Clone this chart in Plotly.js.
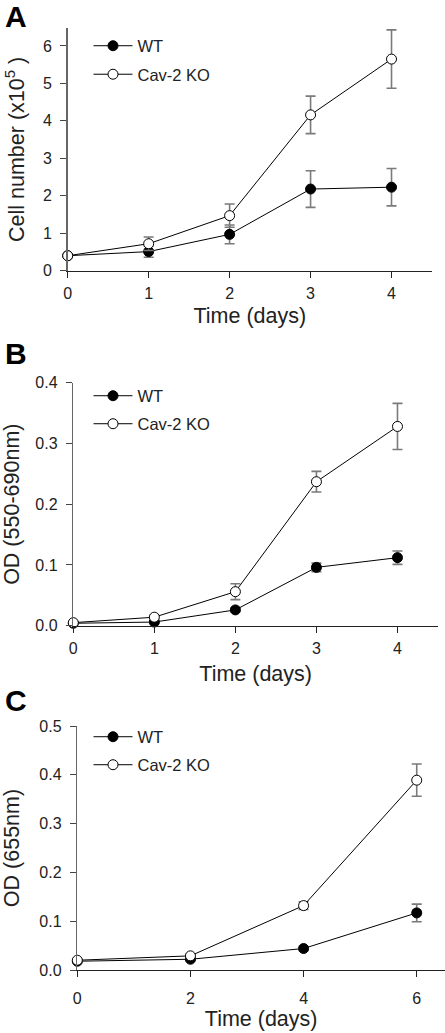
<!DOCTYPE html>
<html>
<head>
<meta charset="utf-8">
<script src="https://cdn.plot.ly/plotly-3.0.1.min.js"></script>
<style>html,body{margin:0;padding:0;background:#fff}#chart{width:445px;height:1033px}</style>
</head>
<body>
<div id="chart"></div>
<script>
// ---- data ----
const daysAB = [0, 1, 2, 3, 4];
const daysC = [0, 2, 4, 6];
const seriesNames = ["WT", "Cav-2 KO"];

const cellWT = [0.40, 0.51, 0.97, 2.18, 2.23];
const cellWTerr = [0.04, 0.15, 0.25, 0.49, 0.50];
const cellKO = [0.40, 0.72, 1.47, 4.16, 5.65];
const cellKOerr = [0.03, 0.18, 0.31, 0.50, 0.78];

const odBWT = [0.004, 0.006, 0.026, 0.096, 0.112];
const odBWTerr = [0.002, 0.002, 0.003, 0.007, 0.011];
const odBKO = [0.005, 0.014, 0.056, 0.237, 0.328];
const odBKOerr = [0.002, 0.003, 0.013, 0.017, 0.038];

const odCWT = [0.018, 0.022, 0.044, 0.117];
const odCWTerr = [0.003, 0.003, 0.004, 0.018];
const odCKO = [0.020, 0.029, 0.132, 0.389];
const odCKOerr = [0.003, 0.003, 0.008, 0.033];

const panelLabels = ["A", "B", "C"];
const yTitles = ["Cell number (x10<sup>5</sup> )", "OD (550-690nm)", "OD (655nm)"];
const xTitle = "Time (days)";

// ---- layout helpers ----
const W = 445, H = 1033;
const px = v => v / W;
const py = v => 1 - v / H;
const FONT = "Liberation Sans, Arial, sans-serif";

function mkTrace(x, y, err, name, filled, xa, ya, leg) {
  return {
    type: "scatter", mode: "lines+markers", x: x, y: y, name: name,
    xaxis: xa, yaxis: ya, legend: leg, cliponaxis: false,
    line: {color: "#000", width: 1},
    marker: {size: 10, color: filled ? "#000" : "#fff", line: {color: "#000", width: 1}},
    error_y: {type: "data", array: err, visible: true, color: "#7a7a7a", thickness: 1.6, width: 5}
  };
}

const data = [
  mkTrace(daysAB, cellWT, cellWTerr, seriesNames[0], true, "x", "y", "legend2"),
  mkTrace(daysAB, cellKO, cellKOerr, seriesNames[1], false, "x", "y", "legend3"),
  mkTrace(daysAB, odBWT, odBWTerr, seriesNames[0], true, "x2", "y2", "legend4"),
  mkTrace(daysAB, odBKO, odBKOerr, seriesNames[1], false, "x2", "y2", "legend5"),
  mkTrace(daysC, odCWT, odCWTerr, seriesNames[0], true, "x3", "y3", "legend6"),
  mkTrace(daysC, odCKO, odCKOerr, seriesNames[1], false, "x3", "y3", "legend7")
];

function xax(domain, range, dtick, anchor, lblOff, tStand) {
  return {
    domain: domain, range: range, dtick: dtick, tick0: 0, anchor: anchor,
    showline: true, linecolor: "#222", linewidth: 1, ticks: "outside", ticklen: 6, tickcolor: "#222",
    ticklabelstandoff: lblOff,
    showgrid: false, zeroline: false, tickfont: {family: FONT, size: 16, color: "#222"},
    title: {text: xTitle, font: {family: FONT, size: 21.5, color: "#222"}, standoff: tStand}
  };
}
function yax(domain, range, dtick, fmt, anchor, title, tStand) {
  return {
    domain: domain, range: range, dtick: dtick, tick0: 0, anchor: anchor, tickformat: fmt,
    showline: true, linecolor: "#666", linewidth: 1.5, ticks: "outside", ticklen: 6, tickcolor: "#444",
    ticklabelstandoff: 5,
    showgrid: false, zeroline: false, tickfont: {family: FONT, size: 16, color: "#222"},
    title: {text: title, font: {family: FONT, size: 21.5, color: "#222"}, standoff: tStand}
  };
}
function leg(xPx, yPx) {
  return {x: px(xPx), y: py(yPx), xanchor: "left", yanchor: "middle", bgcolor: "rgba(0,0,0,0)",
    font: {family: FONT, size: 16.5, color: "#222"}, itemwidth: 39};
}

const layout = {
  width: W, height: H, margin: {l: 0, r: 0, t: 0, b: 0},
  paper_bgcolor: "#fff", plot_bgcolor: "#fff", font: {family: FONT}, showlegend: true,
  xaxis: xax([px(67.7), px(432)], [0, 4.5], 1, "y", 2, 7),
  yaxis: yax([py(270.7), py(28)], [0, 6.48], 1, "d", "x", yTitles[0], 12),
  xaxis2: xax([px(73.3), px(438)], [0, 4.5], 1, "y2", 2, 10),
  yaxis2: yax([py(625.7), py(382.7)], [0, 0.4], 0.1, ".1f", "x2", yTitles[1], 10),
  xaxis3: xax([px(77.3), px(445)], [0, 6.5], 2, "y3", 8, 4),
  yaxis3: yax([py(970), py(726)], [0, 0.5], 0.1, ".1f", "x3", yTitles[2], 15),
  legend2: leg(88.5, 46), legend3: leg(88.5, 74.5),
  legend4: leg(88.5, 396), legend5: leg(88.5, 424),
  legend6: leg(88.5, 737), legend7: leg(88.5, 765),
  annotations: [
    [panelLabels[0], 3, -2.5], [panelLabels[1], 3, 334.5], [panelLabels[2], 3, 682]
  ].map(a => ({text: "<b>" + a[0] + "</b>", x: px(a[1]), y: py(a[2]), xref: "paper", yref: "paper",
    xanchor: "left", yanchor: "top", showarrow: false, font: {family: FONT, size: 30, color: "#000"}}))
};

Plotly.newPlot("chart", data, layout, {displayModeBar: false, staticPlot: true});
</script>
</body>
</html>
